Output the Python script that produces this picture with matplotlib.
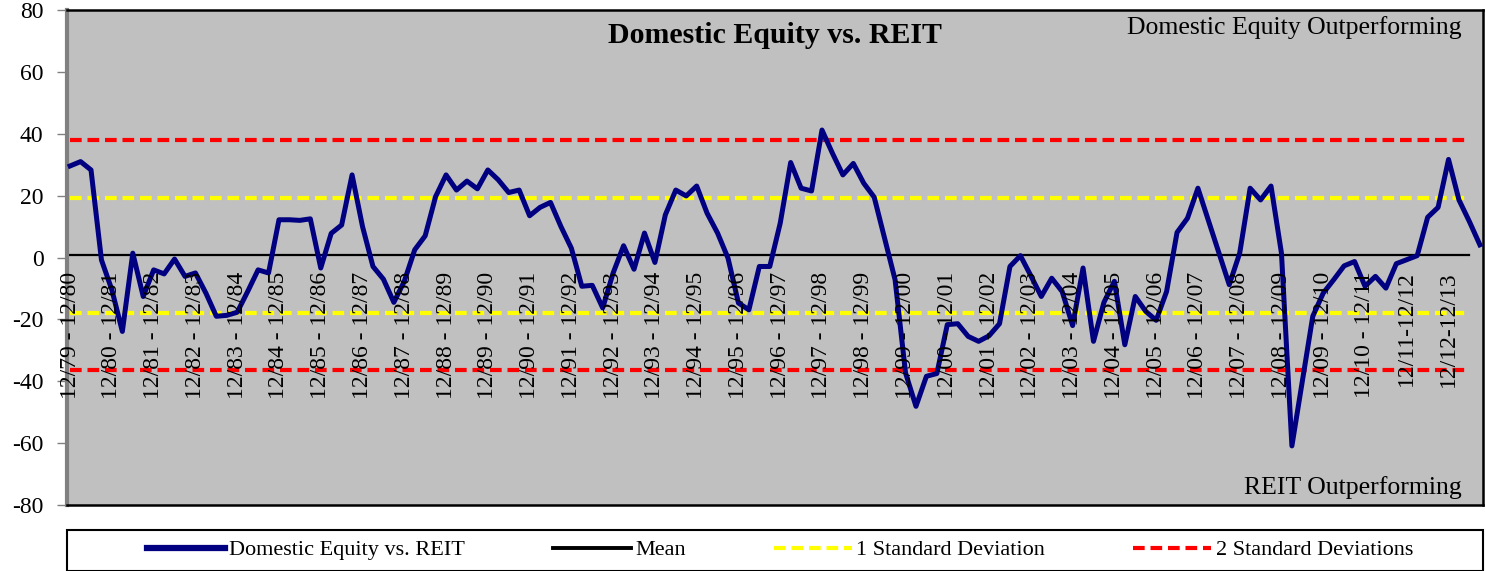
import numpy as np
import matplotlib.pyplot as plt
from matplotlib.patches import Rectangle

# rolling 1-year return difference, quarterly (domestic equity minus REIT)
spread = [29.6, 31.0, 28.3, -0.8, -10.5, -23.9, 1.4, -12.6, -4.0, -5.3,
          -0.5, -6.1, -5.0, -11.5, -19.0, -18.7, -17.7, -11.0, -4.0, -5.0,
          12.2, 12.2, 12.0, 12.5, -3.4, 7.8, 10.5, 26.7, 10.0, -2.9,
          -7.0, -14.5, -7.7, 2.5, 7.0, 19.7, 26.7, 21.8, 24.7, 22.2,
          28.3, 25.1, 21.0, 21.8, 13.5, 16.2, 17.8, 10.0, 3.0, -9.3,
          -9.0, -16.3, -5.0, 3.8, -3.8, 7.9, -1.6, 13.8, 21.8, 19.9,
          23.1, 14.3, 7.9, -0.2, -14.7, -16.9, -2.9, -2.9, 11.1, 30.7,
          22.4, 21.5, 41.2, 33.7, 26.7, 30.4, 24.0, 19.5, 6.2, -7.2,
          -37.3, -48.1, -38.4, -37.5, -21.7, -21.4, -25.5, -27.1, -25.3, -21.4,
          -2.9, 0.6, -5.9, -12.6, -6.7, -11.0, -22.0, -3.4, -27.1, -14.5,
          -7.7, -28.2, -12.6, -17.4, -20.3, -11.0, 8.1, 12.7, 22.4, 12.0,
          1.5, -8.8, 1.4, 22.4, 18.6, 23.1, 1.4, -60.9, -40.0, -19.0,
          -11.5, -7.2, -2.7, -1.3, -9.3, -6.1, -9.9, -2.0, -0.7, 0.6,
          13.0, 16.2, 31.7, 18.6, 11.6, 4.1]

mean = 0.7
std = 18.6

period_labels = ["12/79 - 12/80", "12/80 - 12/81", "12/81 - 12/82", "12/82 - 12/83",
                 "12/83 - 12/84", "12/84 - 12/85", "12/85 - 12/86", "12/86 - 12/87",
                 "12/87 - 12/88", "12/88 - 12/89", "12/89 - 12/90", "12/90 - 12/91",
                 "12/91 - 12/92", "12/92 - 12/93", "12/93 - 12/94", "12/94 - 12/95",
                 "12/95 - 12/96", "12/96 - 12/97", "12/97 - 12/98", "12/98 - 12/99",
                 "12/99 - 12/00", "12/00 - 12/01", "12/01 - 12/02", "12/02 - 12/03",
                 "12/03 - 12/04", "12/04 - 12/05", "12/05 - 12/06", "12/06 - 12/07",
                 "12/07 - 12/08", "12/08 - 12/09", "12/09 - 12/10", "12/10 - 12/11",
                 "12/11-12/12", "12/12-12/13"]

y_ticks = [-80, -60, -40, -20, 0, 20, 40, 60, 80]

font = "Liberation Serif"
plt.rcParams["font.family"] = [font, "DejaVu Serif"]

W, H = 1486, 571
fig = plt.figure(figsize=(W / 100, H / 100), dpi=100)
ax = fig.add_axes([67 / W, 1 - 505 / H, (1483 - 67) / W, (505 - 10) / H])
ax.set_facecolor("#c0c0c0")

x = np.arange(len(spread))
xl = np.arange(len(spread) - 1)   # reference lines stop one quarter short

dash = (0, (2.8, 1.4))
ax.plot(xl, np.full(len(xl), mean + 2 * std), color="#ff0000", lw=3, ls=dash,
        label="2 Standard Deviations", zorder=2)
ax.plot(xl, np.full(len(xl), mean - 2 * std), color="#ff0000", lw=3, ls=dash, zorder=2)
ax.plot(xl, np.full(len(xl), mean + std), color="#ffff00", lw=3, ls=dash,
        label="1 Standard Deviation", zorder=2)
ax.plot(xl, np.full(len(xl), mean - std), color="#ffff00", lw=3, ls=dash, zorder=2)
ax.plot(xl, np.full(len(xl), mean), color="black", lw=1.6, label="Mean", zorder=2)
ax.plot(x, spread, color="#000080", lw=3.6, label="Domestic Equity vs. REIT", zorder=3)

ax.set_xlim(-0.3, len(spread) - 0.7)
ax.set_ylim(-80, 80)
ax.set_yticks(y_ticks)
ax.set_yticklabels([str(v) for v in y_ticks], fontsize=17)
ax.tick_params(axis="y", length=7, width=1, color="#808080", pad=10)
ax.set_xticks([])

for side in ["top", "right", "bottom"]:
    ax.spines[side].set_color("black")
    ax.spines[side].set_linewidth(1.8)
ax.spines["left"].set_color("#808080")
ax.spines["left"].set_linewidth(3)

# category labels sit inside the plot, just under the zero line
for i, lab in enumerate(period_labels):
    ax.text(i * 4, -4.5, lab, rotation=90, ha="center", va="top",
            fontsize=17, color="black", zorder=4)

ax.text(0.5, 0.949, "Domestic Equity vs. REIT", transform=ax.transAxes,
        ha="center", va="center", fontsize=21.5, fontweight="bold")
ax.text(0.985, 0.964, "Domestic Equity Outperforming", transform=ax.transAxes,
        ha="right", va="center", fontsize=18.5)
ax.text(0.985, 0.036, "REIT Outperforming", transform=ax.transAxes,
        ha="right", va="center", fontsize=18.5)

# legend box across the bottom
fig.patches.append(Rectangle((67 / W, 0), (1483 - 67) / W, 41 / H,
                             transform=fig.transFigure, fill=False,
                             edgecolor="black", lw=1.5))
handles, labels = ax.get_legend_handles_labels()
order = [3, 2, 1, 0]
leg = fig.legend([handles[k] for k in order], [labels[k] for k in order],
                 loc="center", bbox_to_anchor=(147 / W, 2 / H, (1413 - 147) / W, 38 / H),
                 mode="expand", ncol=4, frameon=False, fontsize=16,
                 handlelength=3.5, handletextpad=0.2, borderpad=0, borderaxespad=0)
leg.get_lines()[0].set_linewidth(4.5)
leg.get_lines()[1].set_linewidth(2.8)

fig.savefig("out.png", dpi=100)
